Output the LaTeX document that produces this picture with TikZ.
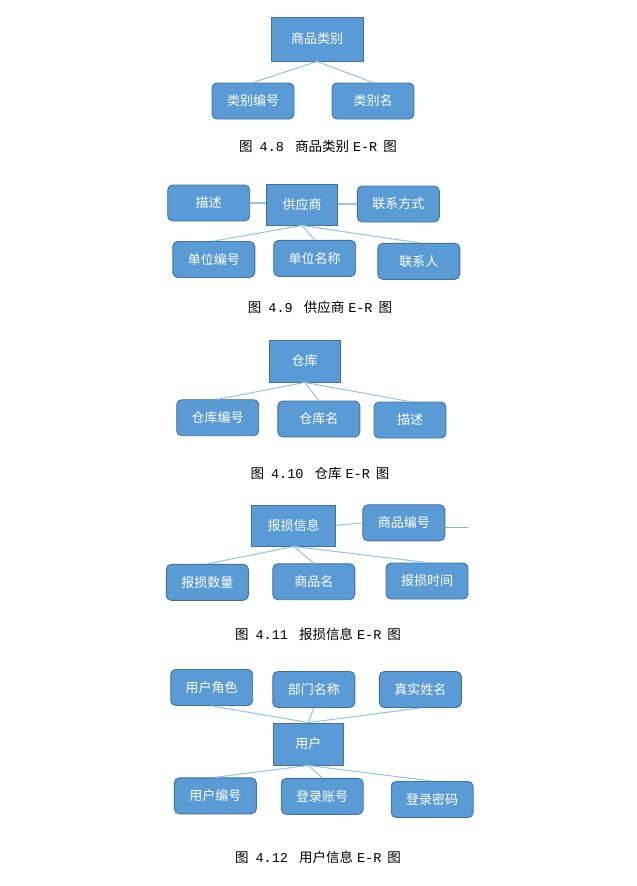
\documentclass[tikz,border=0pt]{standalone}
\usepackage{fontspec}
\setmainfont{Noto Sans CJK SC}
\newfontfamily\latinmono{Liberation Mono}

\definecolor{erfill}{HTML}{5B9BD5}
\definecolor{erborder}{HTML}{41719C}
\definecolor{erlink}{HTML}{9DC3E6}

\tikzset{
  entity/.style={draw=erborder, fill=erfill, text=white, line width=0.9pt,
    minimum width=71, minimum height=42, inner sep=0pt,
    font=\fontsize{13}{15}\selectfont},
  attr/.style={entity, rounded corners=5, minimum width=82, minimum height=36},
  link/.style={draw=erlink, line width=1.1pt},
  figcap/.style={font=\fontsize{13.5}{15}\selectfont, inner sep=0pt}
}
\newcommand{\ercap}[2]{图\hspace{7pt}{\latinmono #1}\hspace{11pt}#2\hspace{4pt}{\latinmono E-R}\hspace{6pt}图}

\begin{document}
\begin{tikzpicture}[x=1pt, y=-1pt]
  \useasboundingbox (0,0) rectangle (637,886);

  % Figure 4.8
  \node[entity, minimum width=92, minimum height=44] (cat) at (317,39) {商品类别};
  \node[attr] (catno) at (253,101) {类别编号};
  \node[attr] (catname) at (373,101) {类别名};
  \draw[link] (cat.south) -- (catno.north);
  \draw[link] (cat.south) -- (catname.north);
  \node[figcap] (cap8) at (318,146) {\ercap{4.8}{商品类别}};

  % Figure 4.9
  \node[entity, minimum height=41] (sup) at (302,204.5) {供应商};
  \node[attr] (supdesc) at (208.7,203) {描述};
  \node[attr] (supcontact) at (398.3,204) {联系方式};
  \node[attr] (supno) at (213.8,259.5) {单位编号};
  \node[attr] (supname) at (314.7,258.3) {单位名称};
  \node[attr] (supperson) at (418.8,261.3) {联系人};
  \draw[link] (supdesc.east) -- (sup.west |- supdesc.east);
  \draw[link] (sup.east |- supcontact.west) -- (supcontact.west);
  \draw[link] (sup.south) -- (supno.north);
  \draw[link] (sup.south) -- (supname.north);
  \draw[link] (sup.south) -- (supperson.north);
  \node[figcap] (cap9) at (320,307) {\ercap{4.9}{供应商}};

  % Figure 4.10
  \node[entity] (store) at (304.7,361) {仓库};
  \node[attr] (storeno) at (217.7,417.7) {仓库编号};
  \node[attr] (storename) at (318.8,419) {仓库名};
  \node[attr, minimum width=72] (storedesc) at (410,420) {描述};
  \draw[link] (store.south) -- (storeno.north);
  \draw[link] (store.south) -- (storename.north);
  \draw[link] (store.south) -- (storedesc.north);
  \node[figcap] (cap10) at (320,473) {\ercap{4.10}{仓库}};

  % Figure 4.11
  \node[entity, minimum width=84, minimum height=41] (loss) at (293.7,525.5) {报损信息};
  \node[attr] (lossgoods) at (403.8,522.8) {商品编号};
  \node[attr] (lossqty) at (207.3,582.3) {报损数量};
  \node[attr] (lossname) at (313.8,581.7) {商品名};
  \node[attr] (losstime) at (427,581) {报损时间};
  \coordinate (lossend) at (467.5,527.5);
  \draw[link] (loss.east) -- (lossgoods.west);
  \draw[link, draw=erlink!70!gray] (lossgoods.east |- lossend) -- (lossend);
  \draw[link] (loss.south) -- (lossqty.north);
  \draw[link] (loss.south) -- (lossname.north);
  \draw[link] (loss.south) -- (losstime.north);
  \node[figcap] (cap11) at (318,634) {\ercap{4.11}{报损信息}};

  % Figure 4.12
  \node[attr] (userrole) at (211.7,687.5) {用户角色};
  \node[attr] (userdept) at (313.8,689.5) {部门名称};
  \node[attr] (userreal) at (420.3,689.5) {真实姓名};
  \node[entity, minimum width=70] (user) at (308.3,744) {用户};
  \node[attr] (userno) at (215.3,795.8) {用户编号};
  \node[attr] (useracc) at (322.2,796.3) {登录账号};
  \node[attr] (userpwd) at (432.2,799.5) {登录密码};
  \draw[link] (user.north) -- (userrole.south);
  \draw[link] (user.north) -- (userdept.south);
  \draw[link] (user.north) -- (userreal.south);
  \draw[link] (user.south) -- (userno.north);
  \draw[link] (user.south) -- (useracc.north);
  \draw[link] (user.south) -- (userpwd.north);
  \node[figcap] (cap12) at (318,857) {\ercap{4.12}{用户信息}};
\end{tikzpicture}
\end{document}
